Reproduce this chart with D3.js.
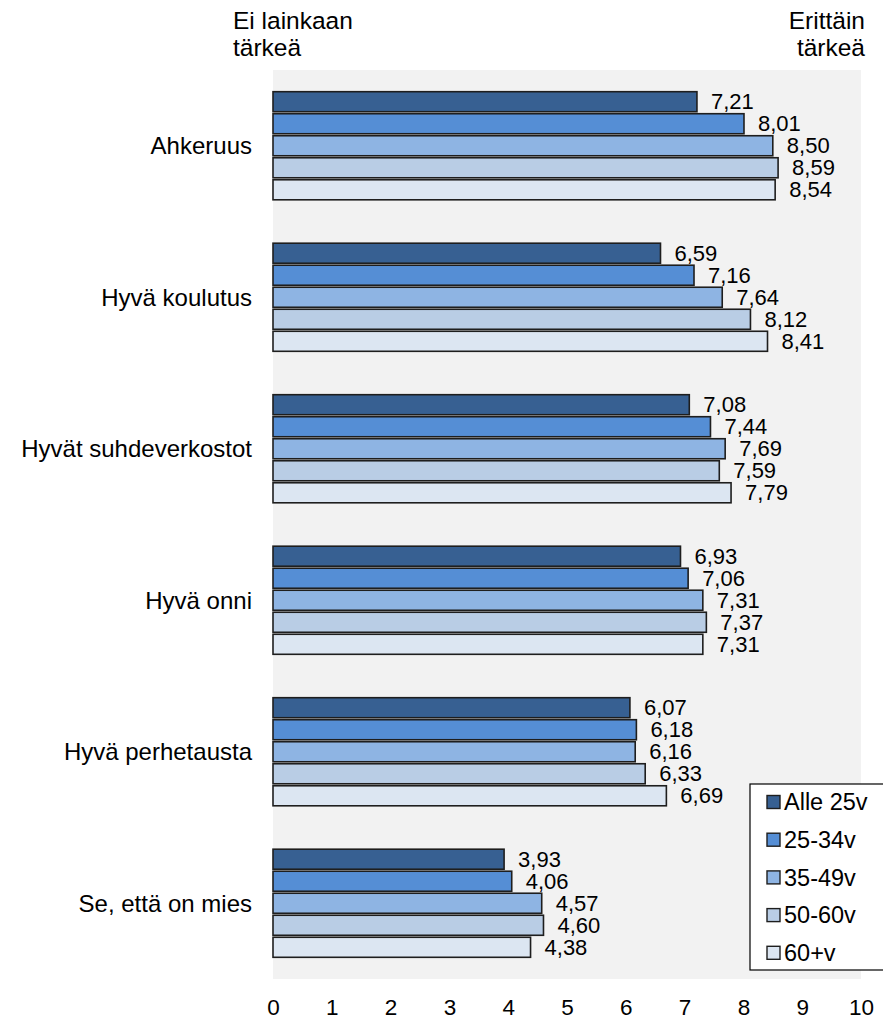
<!DOCTYPE html>
<html>
<head>
<meta charset="utf-8">
<script src="https://cdn.jsdelivr.net/npm/d3@7"></script>
<style>
  html, body { margin: 0; padding: 0; background: #fff; }
  svg text { font-family: "Liberation Sans", Arial, sans-serif; fill: #000; }
</style>
</head>
<body>
<svg id="chart" width="883" height="1021"></svg>
<script>
// Importance ratings by age group (scale 0–10)
const categories = ["Ahkeruus", "Hyvä koulutus", "Hyvät suhdeverkostot", "Hyvä onni", "Hyvä perhetausta", "Se, että on mies"];
const seriesNames = ["Alle 25v", "25-34v", "35-49v", "50-60v", "60+v"];
const alle25 = [7.21, 6.59, 7.08, 6.93, 6.07, 3.93];
const v25_34 = [8.01, 7.16, 7.44, 7.06, 6.18, 4.06];
const v35_49 = [8.50, 7.64, 7.69, 7.31, 6.16, 4.57];
const v50_60 = [8.59, 8.12, 7.59, 7.37, 6.33, 4.60];
const v60plus = [8.54, 8.41, 7.79, 7.31, 6.69, 4.38];
const tickValues = [0, 1, 2, 3, 4, 5, 6, 7, 8, 9, 10];
const colors = ["#376092", "#558ed5", "#8eb4e3", "#b9cde5", "#dce6f2"];

const seriesValues = [alle25, v25_34, v35_49, v50_60, v60plus];

const svg = d3.select("#chart");

const plot = { left: 273, right: 861, top: 70, bottom: 979 };

const x = d3.scaleLinear().domain([0, 10]).range([plot.left, plot.right]);
const y0 = d3.scaleBand().domain(categories).range([plot.top, plot.bottom]).padding(0);
const y1 = d3.scaleBand().domain(seriesNames)
  .range([21.7, y0.bandwidth() - 21.7]).paddingInner(0.09).paddingOuter(0);

const fmt = v => d3.format(".2f")(v).replace(".", ",");

// plot area background
svg.append("rect")
  .attr("x", plot.left).attr("y", plot.top)
  .attr("width", plot.right - plot.left).attr("height", plot.bottom - plot.top)
  .attr("fill", "#f2f2f2");

// header labels for scale ends
const header = svg.append("g").attr("font-size", 24.5);
header.append("text").attr("x", 233).attr("y", 29).text("Ei lainkaan");
header.append("text").attr("x", 233).attr("y", 56).text("tärkeä");
header.append("text").attr("x", 865).attr("y", 29).attr("text-anchor", "end").text("Erittäin");
header.append("text").attr("x", 865).attr("y", 56).attr("text-anchor", "end").text("tärkeä");

// bars
const groups = svg.append("g").selectAll("g")
  .data(categories)
  .join("g")
  .attr("transform", d => `translate(0,${y0(d)})`);

groups.selectAll("rect")
  .data((c, i) => seriesNames.map((s, j) => ({ s, j, v: seriesValues[j][i] })))
  .join("rect")
  .attr("x", x(0))
  .attr("y", d => y1(d.s))
  .attr("width", d => x(d.v) - x(0))
  .attr("height", y1.bandwidth())
  .attr("fill", d => colors[d.j])
  .attr("stroke", "#1e1e1e")
  .attr("stroke-width", 1.6);

// value labels
groups.selectAll("text.val")
  .data((c, i) => seriesNames.map((s, j) => ({ s, j, v: seriesValues[j][i] })))
  .join("text")
  .attr("class", "val")
  .attr("x", d => x(d.v) + 14)
  .attr("y", d => y1(d.s) + y1.bandwidth() / 2 + 7.5)
  .attr("font-size", 22)
  .text(d => fmt(d.v));

// category labels
groups.append("text")
  .attr("x", 252)
  .attr("y", y0.bandwidth() / 2)
  .attr("dy", "0.35em")
  .attr("text-anchor", "end")
  .attr("font-size", 24)
  .text(d => d);

// x axis (labels only)
const xAxis = d3.axisBottom(x).tickValues(tickValues).tickSize(0).tickPadding(0)
  .tickFormat(d3.format("d"));
const ax = svg.append("g")
  .attr("transform", `translate(0,${plot.bottom + 20})`)
  .call(xAxis);
ax.select(".domain").remove();
ax.selectAll("text")
  .attr("font-size", 22.5)
  .attr("font-family", "Liberation Sans, Arial, sans-serif")
  .attr("fill", "#000");

// legend
const legend = svg.append("g").attr("transform", "translate(750,784)");
legend.append("rect")
  .attr("x", 0).attr("y", 0).attr("width", 140).attr("height", 186)
  .attr("fill", "#fff").attr("stroke", "#000").attr("stroke-width", 1.2);
const item = legend.selectAll("g.item")
  .data(seriesNames)
  .join("g")
  .attr("class", "item")
  .attr("transform", (d, i) => `translate(0,${18 + i * 37.7})`);
item.append("rect")
  .attr("x", 17).attr("y", -6.5).attr("width", 13).attr("height", 13)
  .attr("fill", (d, i) => colors[i])
  .attr("stroke", "#1e1e1e").attr("stroke-width", 1.4);
item.append("text")
  .attr("x", 34).attr("y", 0).attr("dy", "0.35em")
  .attr("font-size", 23.5)
  .text(d => d);
</script>
</body>
</html>
